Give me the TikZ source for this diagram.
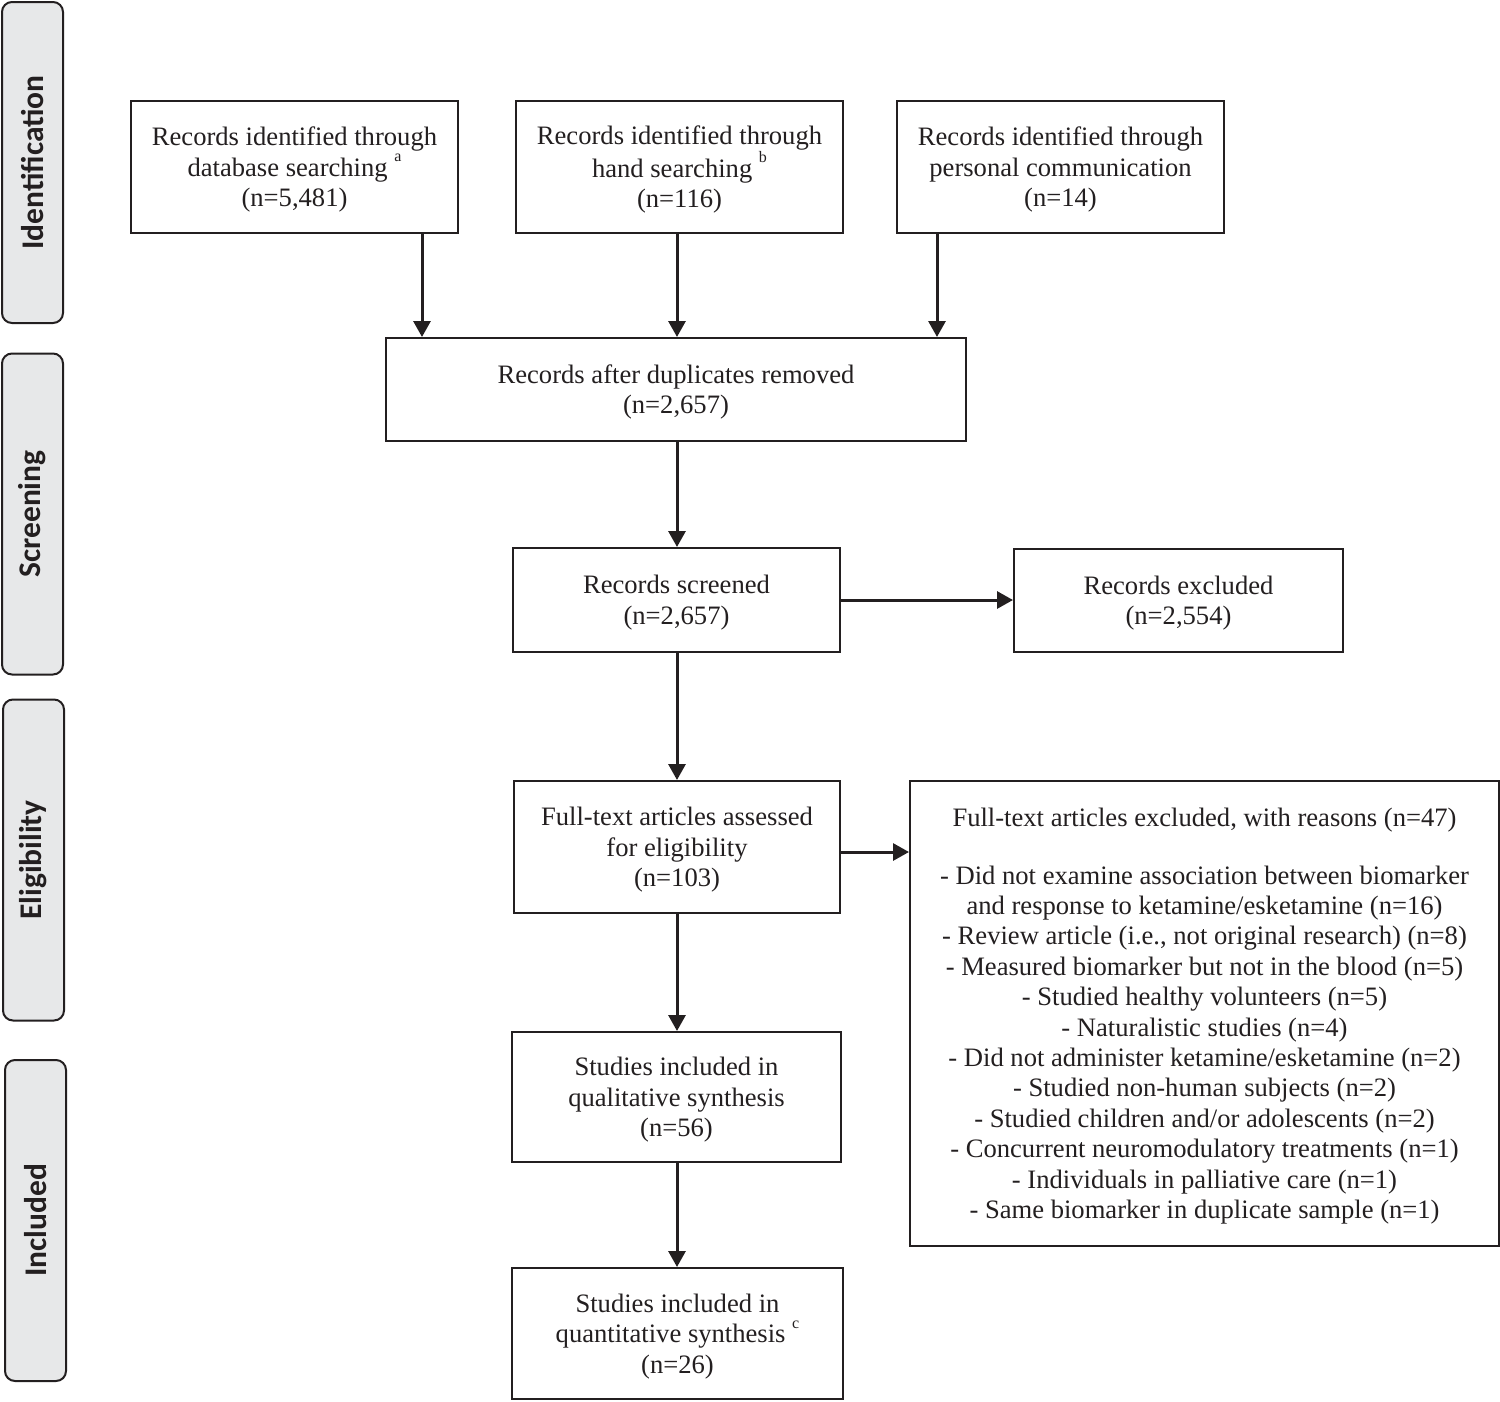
\documentclass[tikz,border=0pt]{standalone}
\usepackage{fontspec}
\setmainfont{Liberation Serif}
\newfontfamily\sidefont{Carlito}
\usetikzlibrary{arrows.meta}
\definecolor{ink}{HTML}{231F20}
\definecolor{sidefill}{HTML}{E7E8E9}
\newcommand{\supr}[1]{\raisebox{0.55em}{\fontsize{16}{16}\selectfont #1}}
\newcommand{\fs}{\rule{0pt}{24pt}}
\begin{document}
\begin{tikzpicture}[x=1pt,y=-1pt,
  box/.style={draw=ink, line width=2pt, fill=white, align=center, inner sep=0pt,
    text=ink, font=\fontsize{26.6}{30.4}\selectfont},
  side/.style={draw=ink, line width=2pt, fill=sidefill, rounded corners=10pt,
    rotate=90, minimum width=321pt, minimum height=61pt, inner sep=0pt,
    text=ink, font=\sidefont\bfseries\fontsize{31.5}{32}\selectfont},
  arr/.style={draw=ink, line width=3pt, -{Triangle[length=16pt,width=17pt]}}]
\useasboundingbox (0,0) rectangle (1500,1401);

% side bars
\node[side] (sid) at (32.5,162.5) {Identification};
\node[side] (ssc) at (32.5,514) {Screening};
\node[side] (sel) at (33.5,860) {Eligibility};
\node[side] (sin) at (35.5,1220.5) {Included};

% boxes
\node[box, minimum width=327pt, minimum height=132pt] (db) at (294.5,167)
  {\fs Records identified through\\database searching \supr{a}\\(n=5,481)};
\node[box, minimum width=327pt, minimum height=132pt] (hand) at (679.5,167)
  {\fs Records identified through\\hand searching \supr{b}\\(n=116)};
\node[box, minimum width=327pt, minimum height=132pt] (pers) at (1060.5,167)
  {\fs Records identified through\\personal communication\\(n=14)};
\node[box, minimum width=580pt, minimum height=103pt] (dup) at (676,389.5)
  {\fs Records after duplicates removed\\(n=2,657)};
\node[box, minimum width=327pt, minimum height=104pt] (scr) at (676.5,600)
  {\fs Records screened\\(n=2,657)};
\node[box, minimum width=329pt, minimum height=103pt] (exc) at (1178.5,600.5)
  {\fs Records excluded\\(n=2,554)};
\node[box, minimum width=326pt, minimum height=132pt] (ft) at (677,847)
  {\fs Full-text articles assessed\\for eligibility\\(n=103)};
\node[box, minimum width=589pt, minimum height=465pt] (fte) at (1204.5,1013.5)
  {\fs Full-text articles excluded, with reasons (n=47)\\[27pt]
   - Did not examine association between biomarker\\
   and response to ketamine/esketamine (n=16)\\
   - Review article (i.e., not original research) (n=8)\\
   - Measured biomarker but not in the blood (n=5)\\
   - Studied healthy volunteers (n=5)\\
   - Naturalistic studies (n=4)\\
   - Did not administer ketamine/esketamine (n=2)\\
   - Studied non-human subjects (n=2)\\
   - Studied children and/or adolescents (n=2)\\
   - Concurrent neuromodulatory treatments (n=1)\\
   - Individuals in palliative care (n=1)\\
   - Same biomarker in duplicate sample (n=1)};
\node[box, minimum width=329pt, minimum height=130pt] (qual) at (676.5,1097)
  {\fs Studies included in\\qualitative synthesis\\(n=56)};
\node[box, minimum width=331pt, minimum height=131pt] (quant) at (677.5,1333.5)
  {\fs Studies included in\\quantitative synthesis \supr{c}\\(n=26)};

% connectors
\coordinate (c1) at (422,0);
\coordinate (c2) at (677,0);
\coordinate (c3) at (937,0);
\coordinate (r1) at (0,600);
\coordinate (r2) at (0,852);
\draw[arr] (db.south -| c1) -- (dup.north -| c1);
\draw[arr] (hand.south -| c2) -- (dup.north -| c2);
\draw[arr] (pers.south -| c3) -- (dup.north -| c3);
\draw[arr] (dup.south -| c2) -- (scr.north -| c2);
\draw[arr] (scr.east |- r1) -- (exc.west |- r1);
\draw[arr] (scr.south -| c2) -- (ft.north -| c2);
\draw[arr] (ft.east |- r2) -- (fte.west |- r2);
\draw[arr] (ft.south -| c2) -- (qual.north -| c2);
\draw[arr] (qual.south -| c2) -- (quant.north -| c2);
\end{tikzpicture}
\end{document}
